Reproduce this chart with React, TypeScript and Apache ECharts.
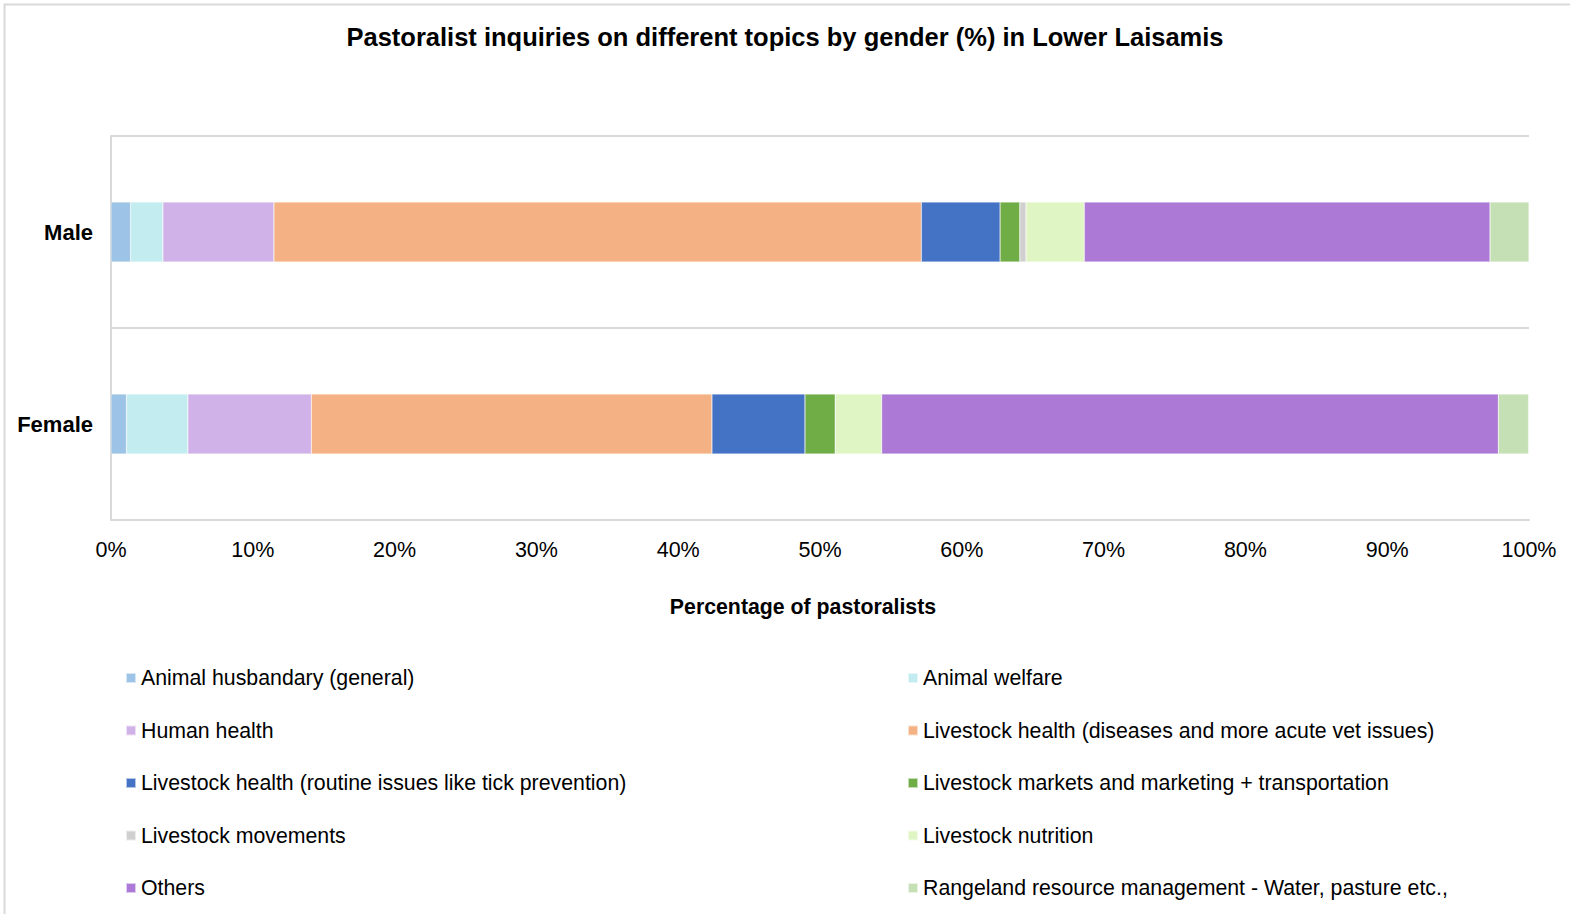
import React, { useEffect, useRef } from "react";
import * as echarts from "echarts";

const categories = ["Male", "Female"];
const topics = [
  "Animal husbandary (general)",
  "Animal welfare",
  "Human health",
  "Livestock health (diseases and more acute vet issues)",
  "Livestock health (routine issues like tick prevention)",
  "Livestock markets and marketing + transportation",
  "Livestock movements",
  "Livestock nutrition",
  "Others",
  "Rangeland resource management - Water, pasture etc.,",
];
const maleValues = [1.38, 2.28, 7.83, 45.66, 5.55, 1.39, 0.44, 4.11, 28.61, 2.75];
const femaleValues = [1.09, 4.33, 8.71, 28.25, 6.56, 2.14, 0, 3.27, 43.49, 2.13];
const colors = [
  "#9DC3E6",
  "#C2ECF0",
  "#D1B2E8",
  "#F4B183",
  "#4472C4",
  "#70AD47",
  "#D0D0D0",
  "#E0F5C4",
  "#AD79D6",
  "#C5E0B4",
];
const xTicks = [0, 10, 20, 30, 40, 50, 60, 70, 80, 90, 100];

const FONT = "'Liberation Sans Narrow', 'Arial Narrow', 'Liberation Sans', Arial, sans-serif";

export default function App() {
  const ref = useRef<HTMLDivElement>(null);
  useEffect(() => {
    document.body.style.margin = "0";
    if (!ref.current) return;
    const chart = echarts.init(ref.current, undefined, { renderer: "svg" });
    const series = topics.map((name, i) => ({
      name,
      type: "bar" as const,
      stack: "total",
      barWidth: 60,
      itemStyle: { color: colors[i], borderColor: "rgba(255,255,255,0.6)", borderWidth: 0.5 },
      data: [maleValues[i], femaleValues[i]],
    }));
    const leftNames = topics.filter((_, i) => i % 2 === 0);
    const rightNames = topics.filter((_, i) => i % 2 === 1);
    const legendCommon = {
      orient: "vertical" as const,
      top: 665,
      padding: 0,
      itemWidth: 10,
      itemHeight: 10,
      itemGap: 26.5,
      icon: "rect",
      textStyle: { fontFamily: FONT, fontSize: 21.3, color: "#000", lineHeight: 26 },
    };
    chart.setOption({
      animation: false,
      backgroundColor: "#fff",
      textStyle: { fontFamily: FONT },
      title: {
        text: "Pastoralist inquiries on different topics by gender (%) in Lower Laisamis",
        left: "center",
        top: 19,
        textStyle: { fontFamily: FONT, fontSize: 25.5, fontWeight: "bold", color: "#000" },
      },
      graphic: [
        {
          type: "rect",
          shape: { x: 4.5, y: 4.5, width: 1600, height: 1000 },
          style: { fill: "none", stroke: "#D9D9D9", lineWidth: 2 },
          silent: true,
        },
      ],
      legend: [
        { ...legendCommon, left: 125, data: leftNames },
        { ...legendCommon, left: 907, data: rightNames },
      ],
      grid: { left: 111, right: 41, top: 136, height: 384, containLabel: false },
      xAxis: {
        type: "value",
        min: 0,
        max: 100,
        interval: 10,
        axisLine: { show: true, lineStyle: { color: "#D9D9D9", width: 2 } },
        axisTick: { show: false },
        splitLine: { show: false },
        axisLabel: {
          margin: 19,
          fontFamily: FONT,
          fontSize: 21.5,
          color: "#000",
          formatter: (v: number) => (xTicks.includes(v) ? `${v}%` : ""),
        },
        name: "Percentage of pastoralists",
        nameLocation: "middle",
        nameGap: 76,
        nameTextStyle: {
          fontFamily: FONT,
          fontSize: 21.3,
          fontWeight: "bold",
          color: "#000",
          padding: [0, 34, 0, 0],
        },
      },
      yAxis: {
        type: "category",
        data: categories,
        inverse: true,
        axisLine: { show: true, lineStyle: { color: "#D9D9D9", width: 2 } },
        axisTick: { show: false },
        splitLine: { show: true, lineStyle: { color: "#D9D9D9", width: 2 } },
        axisLabel: { margin: 18, fontFamily: FONT, fontSize: 22, fontWeight: "bold", color: "#000" },
      },
      series,
    });
    return () => chart.dispose();
  }, []);
  return <div ref={ref} style={{ width: 1570, height: 914 }} />;
}
